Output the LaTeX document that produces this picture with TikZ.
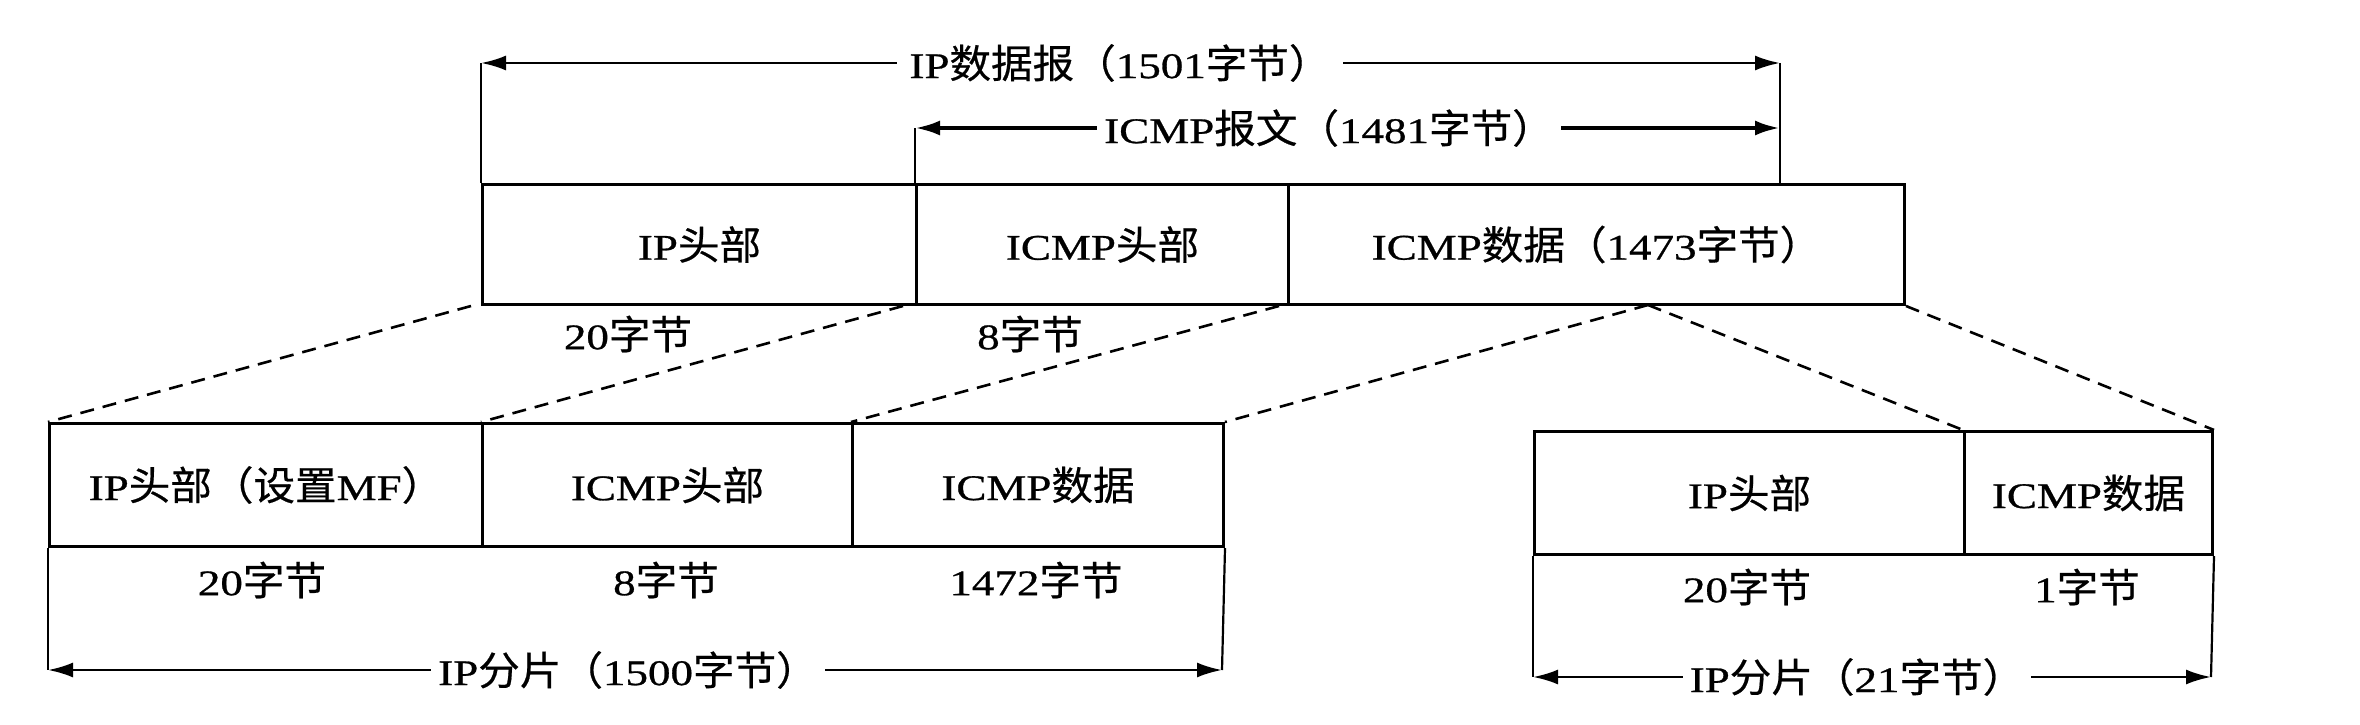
\documentclass[tikz,border=0pt]{standalone}
\usepackage{fontspec}
\setmainfont{Liberation Serif}[FakeStretch=1.25,FakeBold=0.8]
\newfontfamily\cjk{Noto Sans CJK SC}[Scale=1.1,FakeStretch=1.05,FakeBold=0.5]
\newcommand{\zh}[1]{{\cjk #1}}
\usetikzlibrary{arrows.meta}
\begin{document}
\begin{tikzpicture}[x=1pt,y=-1pt,
  txt/.style={font=\fontsize{36}{40}\selectfont, inner sep=0pt},
  cell/.style={draw, line width=3pt, anchor=north west, inner sep=0pt, minimum height=#1, font=\fontsize{36}{40}\selectfont},
  cell/.default=120pt,
  ext/.style={line width=2.2pt},
  dim/.style={line width=2.6pt, {Latex[length=25pt,width=15pt]}-{Latex[length=25pt,width=15pt]}},
  dimlbl/.style={txt, fill=white, inner xsep=7pt, inner ysep=4pt},
  dashline/.style={line width=2.6pt, dash pattern=on 14pt off 9pt}
]
\useasboundingbox (0,0) rectangle (2360,725);

% ---- top datagram ----
\node[cell=120pt, minimum width=434pt] (ipH) at (481,183) {IP\zh{头部}};
\node[cell=120pt, minimum width=372pt] (icH) at (915,183) {ICMP\zh{头部}};
\node[cell=120pt, minimum width=616pt] (icD) at (1287,183) {ICMP\zh{数据（}1473\zh{字节）}};

\coordinate (a1l) at (481,63);
\coordinate (a1r) at (1780,63);
\coordinate (a2l) at (915,128);
\coordinate (a2r) at (1780,128);
\coordinate (a1b) at (1780,183);

\draw[ext] (a1l) -- (ipH.north west);
\draw[ext] (a2l) -- (icH.north west);
\draw[ext] (a1r) -- (a1b);

\draw[dim] (a1l) -- (a1r);
\node[dimlbl, inner xsep=12pt] (t1) at (1120,63) {IP\zh{数据报（}1501\zh{字节）}};
\draw[dim, line width=4pt] (a2l) -- (a2r);
\node[dimlbl] (t2) at (1329,128) {ICMP\zh{报文（}1481\zh{字节）}};

\node[txt] (l20) at (628,334) {20\zh{字节}};
\node[txt] (l8) at (1030,334) {8\zh{字节}};

\coordinate (apex) at (1648,305);

% ---- lower-left fragment ----
\node[cell=123pt, minimum width=433pt] (fIP) at (48,422) {IP\zh{头部（设置}MF\zh{）}};
\node[cell=123pt, minimum width=370pt] (fH) at (481,422) {ICMP\zh{头部}};
\node[cell=123pt, minimum width=371pt] (fD) at (851,422) {ICMP\zh{数据}};

\coordinate (f1l) at (48,670);
\coordinate (f1r) at (1222,670);
\draw[ext] (fIP.south west) -- (f1l);
\draw[ext] (fD.south east) -- (f1r);
\draw[dim] (f1l) -- (f1r);
\node[dimlbl] (tf1) at (628,670) {IP\zh{分片（}1500\zh{字节）}};

\node[txt] (fl1) at (262,580) {20\zh{字节}};
\node[txt] (fl2) at (666,580) {8\zh{字节}};
\node[txt] (fl3) at (1036,580) {1472\zh{字节}};

% ---- lower-right fragment ----
\node[cell=123pt, minimum width=430pt] (gIP) at (1533,430) {IP\zh{头部}};
\node[cell=123pt, minimum width=248pt] (gD) at (1963,430) {ICMP\zh{数据}};

\coordinate (g1l) at (1533,677);
\coordinate (g1r) at (2211,677);
\draw[ext] (gIP.south west) -- (g1l);
\draw[ext] (gD.south east) -- (g1r);
\draw[dim] (g1l) -- (g1r);
\node[dimlbl] (tg1) at (1857,677) {IP\zh{分片（}21\zh{字节）}};

\node[txt] (gl1) at (1747,587) {20\zh{字节}};
\node[txt] (gl2) at (2087,587) {1\zh{字节}};

% ---- dashed mapping lines ----
\draw[dashline] ([xshift=-10pt]ipH.south west) -- (fIP.north west);
\draw[dashline] ([xshift=-12pt]icH.south west) -- (fH.north west);
\draw[dashline] ([xshift=-8pt]icD.south west) -- (fD.north west);
\draw[dashline] (apex) -- (fD.north east);
\draw[dashline] (apex) -- (gD.north west);
\draw[dashline] (icD.south east) -- (gD.north east);
\end{tikzpicture}
\end{document}
